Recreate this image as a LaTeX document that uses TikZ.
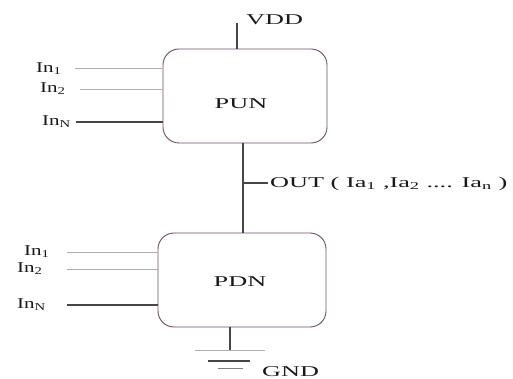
\documentclass[tikz,border=0pt]{standalone}
\usepackage{fontspec}
\setmainfont{Liberation Serif}
\usepackage{graphicx}
\newcommand{\stx}[1]{\scalebox{1.75}[1.0]{#1}}
\definecolor{boxline}{RGB}{110,80,100}
\definecolor{lgray}{RGB}{175,175,175}
\definecolor{dgray}{RGB}{70,70,70}
\begin{document}
\begin{tikzpicture}[x=1pt,y=-1pt,
  lbl/.style={inner sep=0pt,font=\fontsize{15}{16}\selectfont,text=black!90},
  blk/.style={draw=boxline,line width=0.9pt,rounded corners=16pt,fill=white},
  thin/.style={draw=lgray,line width=1pt},
  thick/.style={draw=dgray,line width=1.1pt}]
\useasboundingbox (0,0) rectangle (513,379);
% blocks
\draw[blk] (163,49) rectangle (327,143);
\draw[blk] (158,233) rectangle (326,327);
\node[lbl] (pun) at (241,104) {\stx{PUN}};
\node[lbl] (pdn) at (240,282) {\stx{PDN}};
\coordinate (punT) at (237,49);
\coordinate (punB) at (243,143);
\coordinate (pdnT) at (243,233);
\coordinate (pdnB) at (230,327);
% VDD
\coordinate (vddtop) at (237,23);
\draw[thick] (vddtop) -- (punT);
\node[lbl,anchor=west] (vdd) at (246,20) {\stx{VDD}};
% PUN-PDN connection
\draw[thick] (punB) -- (pdnT);
\coordinate (outj) at (243,183);
\coordinate (oute) at (268,183);
\draw[thick] (outj) -- (oute);
\node[lbl,anchor=west] (out) at (270,184) {\stx{OUT ( Ia\textsubscript{1} ,Ia\textsubscript{2} .... Ia\textsubscript{n} )}};
% PUN inputs
\node[lbl,anchor=west] (pi1) at (36,69) {\scalebox{1.4}[1.0]{In\textsubscript{1}}};
\node[lbl,anchor=west] (pi2) at (40,89) {\scalebox{1.4}[1.0]{In\textsubscript{2}}};
\node[lbl,anchor=west] (pin) at (42,122) {\scalebox{1.4}[1.0]{In\textsubscript{N}}};
\coordinate (pa1) at (75,69); \coordinate (pb1) at (163,69);
\coordinate (pa2) at (80,90); \coordinate (pb2) at (163,90);
\coordinate (pan) at (76,122); \coordinate (pbn) at (163,122);
\draw[thin] (pa1) -- (pb1);
\draw[thin] (pa2) -- (pb2);
\draw[thick] (pan) -- (pbn);
% PDN inputs
\node[lbl,anchor=west] (di1) at (24,252) {\scalebox{1.4}[1.0]{In\textsubscript{1}}};
\node[lbl,anchor=west] (di2) at (17,269) {\scalebox{1.4}[1.0]{In\textsubscript{2}}};
\node[lbl,anchor=west] (din) at (17,305) {\scalebox{1.4}[1.0]{In\textsubscript{N}}};
\coordinate (da1) at (67,252); \coordinate (db1) at (158,252);
\coordinate (da2) at (67,269); \coordinate (db2) at (158,269);
\coordinate (dan) at (67,305); \coordinate (dbn) at (158,305);
\draw[thin] (da1) -- (db1);
\draw[thin] (da2) -- (db2);
\draw[thick] (dan) -- (dbn);
% ground
\coordinate (gj) at (230,350);
\draw[thick] (pdnB) -- (gj);
\draw[thin] (195,350) -- (265,350);
\draw[thick] (208,361) -- (250,361);
\draw[draw=gray,line width=1pt] (218,368) -- (243,368);
\node[lbl,anchor=west] (gnd) at (262,372) {\stx{GND}};
\end{tikzpicture}
\end{document}
